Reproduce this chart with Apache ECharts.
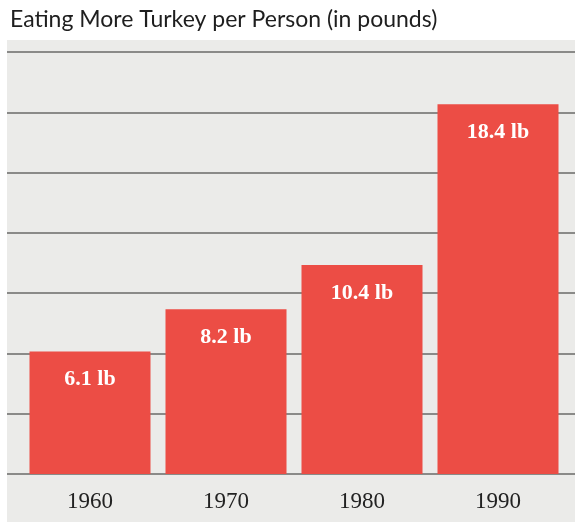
<!DOCTYPE html>
<html>
<head>
<meta charset="utf-8">
<script src="https://cdn.jsdelivr.net/npm/echarts@6/dist/echarts.min.js"></script>
<style>
html,body{margin:0;padding:0;background:#fff}
#chart{width:575px;height:522px}
</style>
</head>
<body>
<div id="chart"></div>
<script>
const years = ['1960', '1970', '1980', '1990']
const pounds = [6.1, 8.2, 10.4, 18.4]
const valueLabels = ['6.1 lb', '8.2 lb', '10.4 lb', '18.4 lb']

const chart = echarts.init(document.getElementById('chart'))

const option = {
    backgroundColor: '#ffffff',
    title: {
        text: 'Eating More Turkey per Person (in pounds)',
        left: 5,
        top: 3,
        textStyle: { fontFamily: 'Lato', fontWeight: 'normal', fontSize: 23, color: '#1e1e1e' }
    },
    graphic: [{
        type: 'rect',
        z: -10,
        shape: { x: 7, y: 40, width: 568, height: 482 },
        style: { fill: '#ebebe9' }
    }],
    grid: [
        { left: 7, right: 0, top: 52, bottom: 48 },
        { left: 22, right: 9, top: 52, bottom: 48 }
    ],
    xAxis: [
        { gridIndex: 0, type: 'category', data: years, show: false },
        {
            gridIndex: 1,
            type: 'category',
            data: years,
            axisLine: { show: false },
            axisTick: { show: false },
            axisLabel: { margin: 16, fontFamily: 'Liberation Serif', fontSize: 23, color: '#222' }
        }
    ],
    yAxis: [
        {
            gridIndex: 0, type: 'value', min: 0, max: 21, interval: 3,
            axisLabel: { show: false }, axisLine: { show: false }, axisTick: { show: false },
            splitLine: { lineStyle: { color: '#8a8a88', width: 2 } }
        },
        {
            gridIndex: 1, type: 'value', min: 0, max: 21, interval: 3,
            show: false, splitLine: { show: false }
        }
    ],
    series: [{
        type: 'bar',
        xAxisIndex: 1,
        yAxisIndex: 1,
        data: pounds,
        barWidth: 121,
        itemStyle: { color: '#ec4d45' },
        label: {
            show: true,
            position: 'insideTop',
            distance: 17,
            formatter: p => valueLabels[p.dataIndex],
            fontFamily: 'Liberation Serif',
            fontWeight: 'bold',
            fontSize: 22,
            color: '#ffffff'
        }
    }]
}

chart.setOption(option)
</script>
</body>
</html>
